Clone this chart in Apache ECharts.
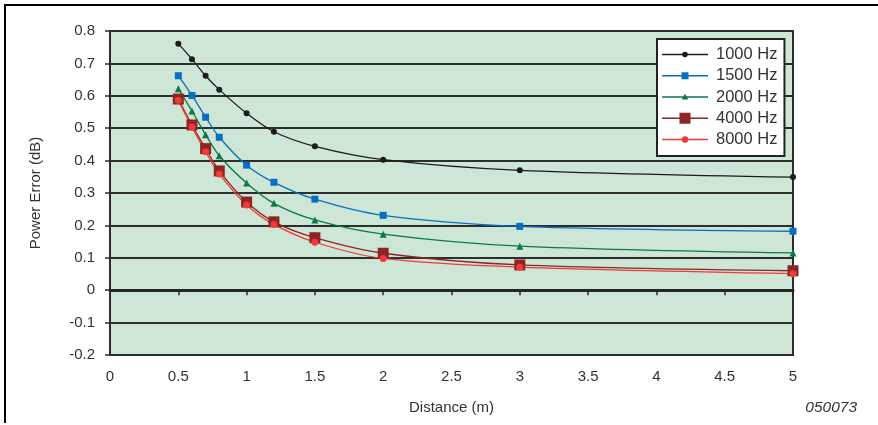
<!DOCTYPE html>
<html>
<head>
<meta charset="utf-8">
<script src="https://cdn.jsdelivr.net/npm/echarts@6/dist/echarts.min.js"></script>
<style>
  html, body { margin: 0; padding: 0; background: #ffffff; }
  #chart { width: 878px; height: 425px; }
</style>
</head>
<body>
<div id="chart"></div>
<script>
// Distance from source (m)
const distance = [0.5, 0.6, 0.7, 0.8, 1.0, 1.2, 1.5, 2, 3, 5];

// Power error (dB) per test frequency
const hz1000 = [0.761, 0.713, 0.662, 0.619, 0.546, 0.489, 0.444, 0.403, 0.370, 0.349];
const hz1500 = [0.662, 0.601, 0.534, 0.472, 0.386, 0.333, 0.281, 0.231, 0.197, 0.182];
const hz2000 = [0.622, 0.553, 0.480, 0.415, 0.331, 0.268, 0.217, 0.173, 0.136, 0.115];
const hz4000 = [0.590, 0.510, 0.437, 0.368, 0.272, 0.211, 0.162, 0.114, 0.078, 0.060];
const hz8000 = [0.586, 0.504, 0.427, 0.359, 0.263, 0.203, 0.148, 0.098, 0.071, 0.051];

const seriesNames = ['1000 Hz', '1500 Hz', '2000 Hz', '4000 Hz', '8000 Hz'];
const xTicks = { min: 0, max: 5, interval: 0.5 };
const yTicks = { min: -0.2, max: 0.8, interval: 0.1 };

const FONT = '"Liberation Sans", Arial, sans-serif';
const TXT = '#333333';
const RULE = '#2e2e2e';

function pairs(ys) { return distance.map((x, i) => [x, ys[i]]); }

function line(name, ys, color, symbol, size, width) {
  return {
    name: name,
    type: 'line',
    data: pairs(ys),
    smooth: 0.3,
    clip: false,
    symbol: symbol,
    symbolSize: size,
    showSymbol: true,
    lineStyle: { color: color, width: width || 1.3 },
    itemStyle: { color: color },
    emphasis: { disabled: true },
    z: 5
  };
}

// Legend keys: a short rule with the series marker in the middle
// (49 x 12 box, the last 3 px left empty as spacing before the text).
const KEY_FRAME = 'M0,0L0,0Z M49,12L49,12Z ';
const KEY_RULE = 'M0,5.2 H46 V6.8 H0 Z ';
function keyCircle(r) {
  return 'M' + (23 + r) + ',6 A' + r + ',' + r + ' 0 1 1 ' + (23 - r) + ',6 A' + r + ',' + r + ' 0 1 1 ' + (23 + r) + ',6 Z';
}
function keySquare(s) {
  const h = s / 2;
  return 'M' + (23 - h) + ',' + (6 - h) + ' H' + (23 + h) + ' V' + (6 + h) + ' H' + (23 - h) + ' Z';
}
const keyTriangle = 'M23,2.8 L26.3,8.6 L19.7,8.6 Z';
const legendIcons = [
  keyCircle(2.8),
  keySquare(7),
  keyTriangle,
  keySquare(11),
  keyCircle(3.2)
].map(p => 'path://' + KEY_FRAME + KEY_RULE + p);

const chart = echarts.init(document.getElementById('chart'), null, { renderer: 'canvas' });

chart.setOption({
  animation: false,
  backgroundColor: '#ffffff',
  textStyle: { fontFamily: FONT },
  grid: {
    left: 110, right: 85, top: 31, bottom: 70,
    show: true,
    backgroundColor: '#cde6d6',
    borderColor: RULE,
    borderWidth: 2
  },
  legend: {
    left: 657, top: 39,
    orient: 'vertical',
    data: seriesNames.map((n, i) => ({ name: n, icon: legendIcons[i] })),
    backgroundColor: '#ffffff',
    borderColor: '#222222',
    borderWidth: 2,
    borderRadius: 0,
    padding: [7, 7, 8, 5],
    itemWidth: 49,
    itemHeight: 12,
    itemGap: 4.25,
    textStyle: { fontFamily: FONT, fontSize: 16.5, color: TXT }
  },
  xAxis: [
    {
      type: 'value',
      min: xTicks.min, max: xTicks.max, interval: xTicks.interval,
      position: 'bottom',
      name: 'Distance (m)',
      nameLocation: 'middle',
      nameGap: 45,
      nameTextStyle: { fontFamily: FONT, fontSize: 15, color: TXT },
      axisLine: { show: true, onZero: false, lineStyle: { color: RULE, width: 2 } },
      axisTick: { show: false },
      axisLabel: { margin: 14, fontFamily: FONT, fontSize: 15, color: TXT },
      splitLine: { show: false }
    },
    {
      type: 'value',
      min: xTicks.min, max: xTicks.max, interval: xTicks.interval,
      position: 'bottom',
      axisLine: { show: true, onZero: true, lineStyle: { color: '#262626', width: 3 } },
      axisTick: { show: true, length: 5, lineStyle: { color: '#262626', width: 1.5 } },
      axisLabel: { show: false },
      splitLine: { show: false }
    }
  ],
  yAxis: {
    type: 'value',
    min: yTicks.min, max: yTicks.max, interval: yTicks.interval,
    name: 'Power Error (dB)',
    nameLocation: 'middle',
    nameGap: 67,
    nameTextStyle: { fontFamily: FONT, fontSize: 15, color: TXT },
    axisLine: { show: true, lineStyle: { color: RULE, width: 2 } },
    axisTick: { show: true, length: 5, lineStyle: { color: RULE, width: 1.5 } },
    axisLabel: {
      margin: 15, fontFamily: FONT, fontSize: 15, color: TXT,
      formatter: v => String(Math.round(v * 10) / 10)
    },
    splitLine: { show: true, lineStyle: { color: RULE, width: 2 } }
  },
  series: [
    line(seriesNames[0], hz1000, '#1c1c1c', 'circle', 6),
    line(seriesNames[1], hz1500, '#0a6fc2', 'rect', 7),
    line(seriesNames[2], hz2000, '#0b7a45', 'triangle', 7),
    line(seriesNames[3], hz4000, '#8e2525', 'rect', 11),
    line(seriesNames[4], hz8000, '#ee3a3a', 'circle', 7)
  ],
  graphic: [
    { type: 'line', shape: { x1: 4, y1: 5, x2: 878, y2: 5 }, style: { stroke: '#000', lineWidth: 2 }, z: 10 },
    { type: 'line', shape: { x1: 5, y1: 4, x2: 5, y2: 423 }, style: { stroke: '#000', lineWidth: 2 }, z: 10 },
    {
      type: 'text', right: 21, top: 400,
      style: { text: '050073', font: 'italic 15.5px "Liberation Sans", Arial, sans-serif', fill: TXT }
    }
  ]
});
</script>
</body>
</html>
